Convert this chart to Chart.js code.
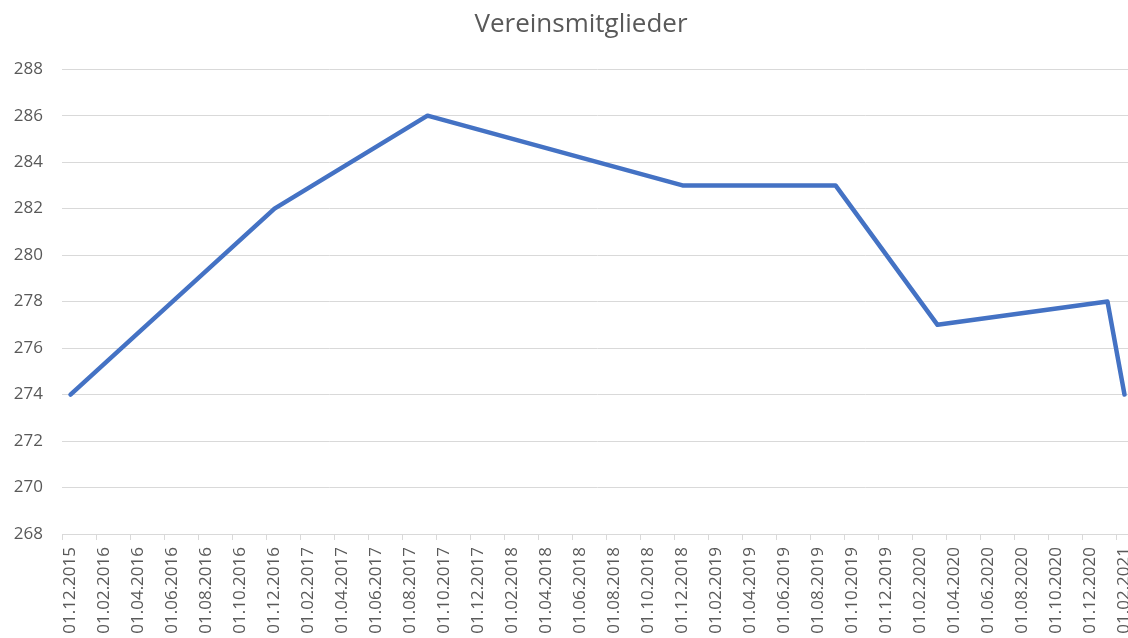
<!DOCTYPE html>
<html lang="de">
<head>
<meta charset="utf-8">
<title>Vereinsmitglieder</title>
<script src="https://cdn.jsdelivr.net/npm/chart.js@4"></script>
<style>
  html, body { margin: 0; padding: 0; background: #fff; overflow: hidden; }
  #wrap { position: relative; width: 1162px; height: 660px; }
</style>
</head>
<body>
<div id="wrap"><canvas id="myChart"></canvas></div>
<script>
'use strict';

// data
const memberDates = ['01.12.2015', '01.12.2016', '01.09.2017', '01.12.2018', '01.09.2019', '01.03.2020', '01.01.2021', '01.02.2021'];
const memberCounts = [274, 282, 286, 283, 283, 277, 278, 274];

// axis range
const axisStart = '01.12.2015';
const axisEnd = '01.02.2021';
const yRange = [268, 288];
const yStep = 2;

// one category per month, labels shown every 2 months
function buildMonths(start, end) {
  let [, sm, sy] = start.split('.').map(Number);
  let [, em, ey] = end.split('.').map(Number);
  let months = [];
  while (sy < ey || (sy === ey && sm <= em)) {
    months.push('01.' + String(sm).padStart(2, '0') + '.' + sy);
    sm++;
    if (sm > 12) { sm = 1; sy++; }
  }
  return months;
}

const monthLabels = buildMonths(axisStart, axisEnd);
const points = memberDates.map((d, i) => ({ x: d, y: memberCounts[i] }));

const textColor = '#595959';
const gridColor = '#d9d9d9';

const config = {
  type: 'line',
  data: {
    labels: monthLabels,
    datasets: [{
      label: 'Vereinsmitglieder',
      data: points,
      borderColor: '#4472C4',
      backgroundColor: '#4472C4',
      borderWidth: 4.5,
      borderJoinStyle: 'round',
      borderCapStyle: 'round',
      pointRadius: 0,
      tension: 0
    }]
  },
  options: {
    responsive: true,
    maintainAspectRatio: false,
    animation: false,
    layout: {
      padding: 0
    },
    scales: {
      x: {
        type: 'category',
        offset: true,
        grid: {
          offset: true,
          drawOnChartArea: false,
          drawTicks: true,
          tickLength: 6,
          color: (ctx) => (ctx.index % 2 === 0 ? gridColor : 'rgba(0,0,0,0)')
        },
        border: { display: true, color: gridColor, width: 1 },
        ticks: {
          autoSkip: false,
          maxRotation: 90,
          minRotation: 90,
          padding: 7,
          color: textColor,
          font: { family: 'Open Sans', size: 17 },
          callback: function(value, index) {
            return index % 2 === 0 ? this.getLabelForValue(value) : '';
          }
        },
        afterFit: (scale) => { scale.height = 660 - 534; }
      },
      y: {
        min: yRange[0],
        max: yRange[1],
        grid: {
          color: gridColor,
          drawTicks: false
        },
        border: { display: false },
        ticks: {
          stepSize: yStep,
          padding: 19,
          color: textColor,
          font: { family: 'Open Sans', size: 17 }
        },
        afterFit: (scale) => { scale.width = 62; }
      },
      // empty right-hand strip, so the full-width title stays centred
      yRight: {
        position: 'right',
        min: yRange[0],
        max: yRange[1],
        grid: { drawOnChartArea: false, drawTicks: false },
        border: { display: false },
        ticks: { display: false },
        afterFit: (scale) => { scale.width = 29; }
      }
    },
    plugins: {
      legend: { display: false },
      tooltip: { enabled: false },
      title: {
        display: true,
        text: 'Vereinsmitglieder',
        color: textColor,
        font: { family: 'Open Sans', size: 26, weight: 'normal', lineHeight: 1.2 },
        padding: { top: 9, bottom: 29 }
      }
    }
  }
};

const myChart = new Chart(document.getElementById('myChart'), config);
</script>
</body>
</html>
